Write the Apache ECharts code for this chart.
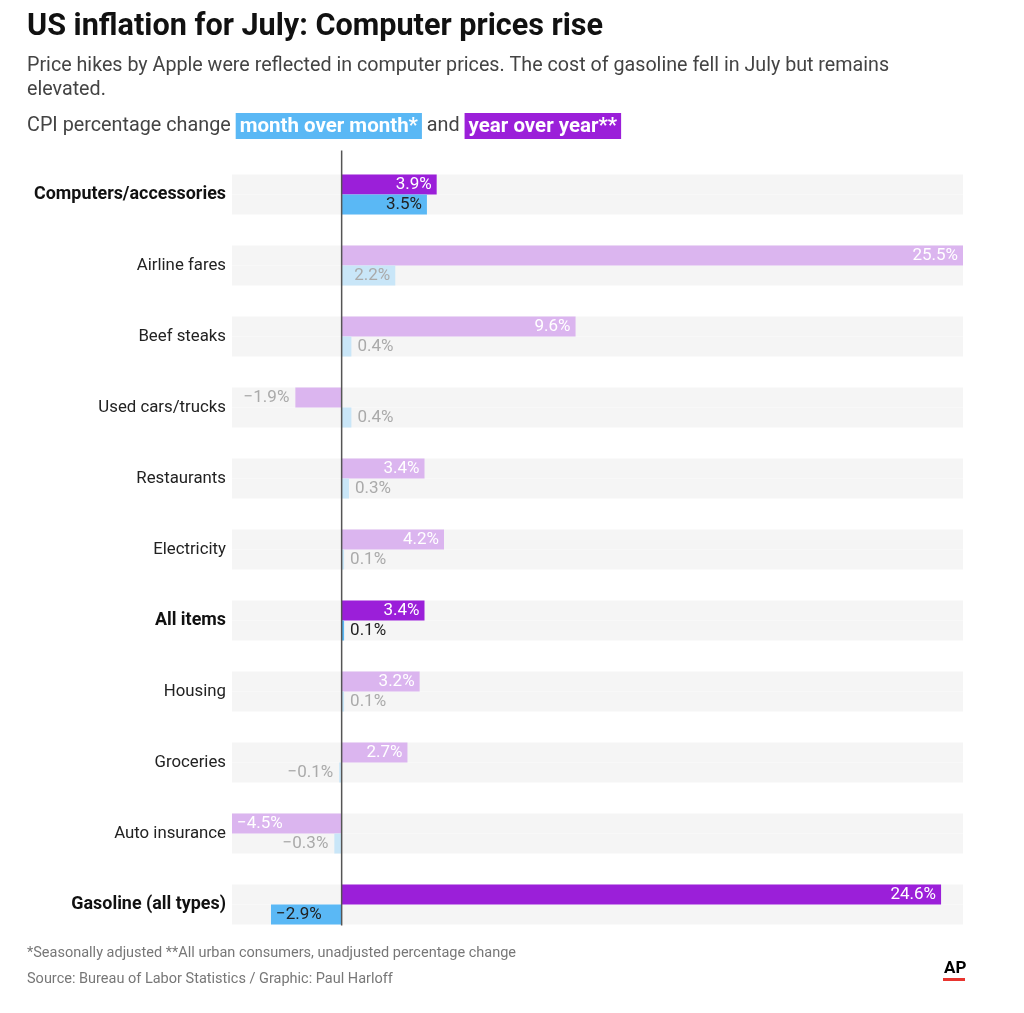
<!DOCTYPE html>
<html lang="en">
<head>
<meta charset="utf-8">
<title>US inflation for July: Computer prices rise</title>
<script src="https://cdn.jsdelivr.net/npm/echarts@6/dist/echarts.min.js"></script>
<style>
  html, body { margin: 0; background: #fff; }
  #main { width: 1024px; height: 1013px; }
</style>
</head>
<body>
<div id="main"></div>
<script type="text/javascript">
var categories = ['Computers/accessories', 'Airline fares', 'Beef steaks', 'Used cars/trucks', 'Restaurants',
  'Electricity', 'All items', 'Housing', 'Groceries', 'Auto insurance', 'Gasoline (all types)'];
var yearOverYear = [3.9, 25.5, 9.6, -1.9, 3.4, 4.2, 3.4, 3.2, 2.7, -4.5, 24.6];
var monthOverMonth = [3.5, 2.2, 0.4, 0.4, 0.3, 0.1, 0.1, 0.1, -0.1, -0.3, -2.9];
var highlighted = ['Computers/accessories', 'All items', 'Gasoline (all types)'];

var FONT = 'Roboto, "Noto Sans", sans-serif';

function fmt(v) {
  return (v < 0 ? '\u2212' + Math.abs(v).toFixed(1) : v.toFixed(1)) + '%';
}

// yoy = purple, mom = blue; faded unless the row is highlighted
function buildItems(values, kind) {
  var items = [];
  for (var i = 0; i < values.length; i++) {
    var v = values[i];
    var hi = highlighted.indexOf(categories[i]) >= 0;
    var fits = Math.abs(v) >= 2.0;
    var color, txt;
    if (kind == 'yoy') {
      color = hi ? '#9b1fd9' : '#dbb5ef';
      txt = fits ? '#ffffff' : '#aaaaaa';
    } else {
      color = hi ? '#5ab8f5' : '#c9e6f8';
      txt = hi ? '#222222' : '#aaaaaa';
    }
    var pos;
    if (v >= 0) pos = fits ? 'insideRight' : 'right';
    else pos = fits ? 'insideLeft' : 'left';
    items.push({
      value: v,
      itemStyle: { color: color },
      label: { show: true, position: pos, color: txt, distance: fits ? 5 : 6 }
    });
  }
  return items;
}

var dom = document.getElementById('main');
var myChart = echarts.init(dom);

var option = {
  animation: false,
  backgroundColor: '#fff',
  title: [
    {
      text: 'US inflation for July: Computer prices rise',
      left: 27, top: 12, padding: 0,
      textStyle: { fontFamily: FONT, fontSize: 30.6, fontWeight: 'bold', color: '#111' }
    },
    {
      text: 'Price hikes by Apple were reflected in computer prices. The cost of gasoline fell in July but remains\nelevated.',
      left: 27, top: 54, padding: 0,
      textStyle: { fontFamily: FONT, fontSize: 19.7, lineHeight: 24, fontWeight: 'normal', color: '#444' }
    },
    {
      text: 'CPI percentage change {m|month over month*} and {y|year over year**}',
      left: 27, top: 113, padding: 0,
      textStyle: {
        fontFamily: FONT, fontSize: 19.8, fontWeight: 'normal', color: '#444', lineHeight: 26,
        rich: {
          m: { backgroundColor: '#5ab8f5', color: '#fff', fontWeight: 'bold', fontSize: 20.5, fontFamily: FONT, padding: [3, 4, 2, 4] },
          y: { backgroundColor: '#9b1fd9', color: '#fff', fontWeight: 'bold', fontSize: 20.5, fontFamily: FONT, padding: [3, 4, 2, 4] }
        }
      }
    },
    {
      text: '*Seasonally adjusted **All urban consumers, unadjusted percentage change',
      left: 27, top: 946, padding: 0,
      textStyle: { fontFamily: FONT, fontSize: 14.5, fontWeight: 'normal', color: '#777' }
    },
    {
      text: 'Source: Bureau of Labor Statistics / Graphic: Paul Harloff',
      left: 27, top: 972, padding: 0,
      textStyle: { fontFamily: FONT, fontSize: 14.5, fontWeight: 'normal', color: '#777' }
    }
  ],
  graphic: [
    { type: 'text', left: 944, top: 960, style: { text: 'AP', font: 'bold 17px ' + FONT, fill: '#000' } },
    { type: 'rect', left: 943, top: 978, shape: { width: 22, height: 3 }, style: { fill: '#e8352f' } }
  ],
  grid: { left: 232, right: 61, top: 159, bottom: 73, containLabel: false },
  xAxis: {
    type: 'value', min: -4.5, max: 25.5, show: false
  },
  yAxis: {
    type: 'category',
    data: categories,
    inverse: true,
    axisLine: { show: false },
    axisTick: { show: false },
    axisLabel: {
      margin: 6,
      fontFamily: FONT,
      fontSize: 17,
      color: '#222',
      formatter: function (name) {
        return highlighted.indexOf(name) >= 0 ? '{b|' + name + '}' : '{n|' + name + '}';
      },
      rich: {
        b: { fontWeight: 'bold', fontSize: 17.9, fontFamily: FONT, color: '#111' },
        n: { fontSize: 16.8, fontFamily: FONT, color: '#222' }
      }
    }
  },
  series: [
    {
      name: 'year over year',
      type: 'bar',
      barWidth: 20,
      barGap: '0%',
      data: buildItems(yearOverYear, 'yoy'),
      showBackground: true,
      backgroundStyle: { color: '#f5f5f5' },
      label: { fontFamily: FONT, fontSize: 17, formatter: function (p) { return fmt(p.value); } },
      z: 3
    },
    {
      name: 'month over month',
      type: 'bar',
      barWidth: 20,
      barGap: '0%',
      data: buildItems(monthOverMonth, 'mom'),
      showBackground: true,
      backgroundStyle: { color: '#f5f5f5' },
      label: { fontFamily: FONT, fontSize: 17, formatter: function (p) { return fmt(p.value); } },
      z: 3
    }
  ]
};

if (option && typeof option === "object") {
  myChart.setOption(option, true);
}

// zero line: x from the value scale, running a little above the first row and to the last band's bottom
var zeroX = myChart.convertToPixel({ xAxisIndex: 0 }, 0);
var topY = myChart.convertToPixel({ yAxisIndex: 0 }, categories[0]) - 44;
var botY = myChart.convertToPixel({ yAxisIndex: 0 }, categories[categories.length - 1]) + 21;
myChart.setOption({
  graphic: option.graphic.concat([{
    type: 'line', silent: true, z: 10,
    shape: { x1: zeroX, y1: topY, x2: zeroX, y2: botY },
    style: { stroke: '#555', lineWidth: 1.5 }
  }])
});
</script>
</body>
</html>
